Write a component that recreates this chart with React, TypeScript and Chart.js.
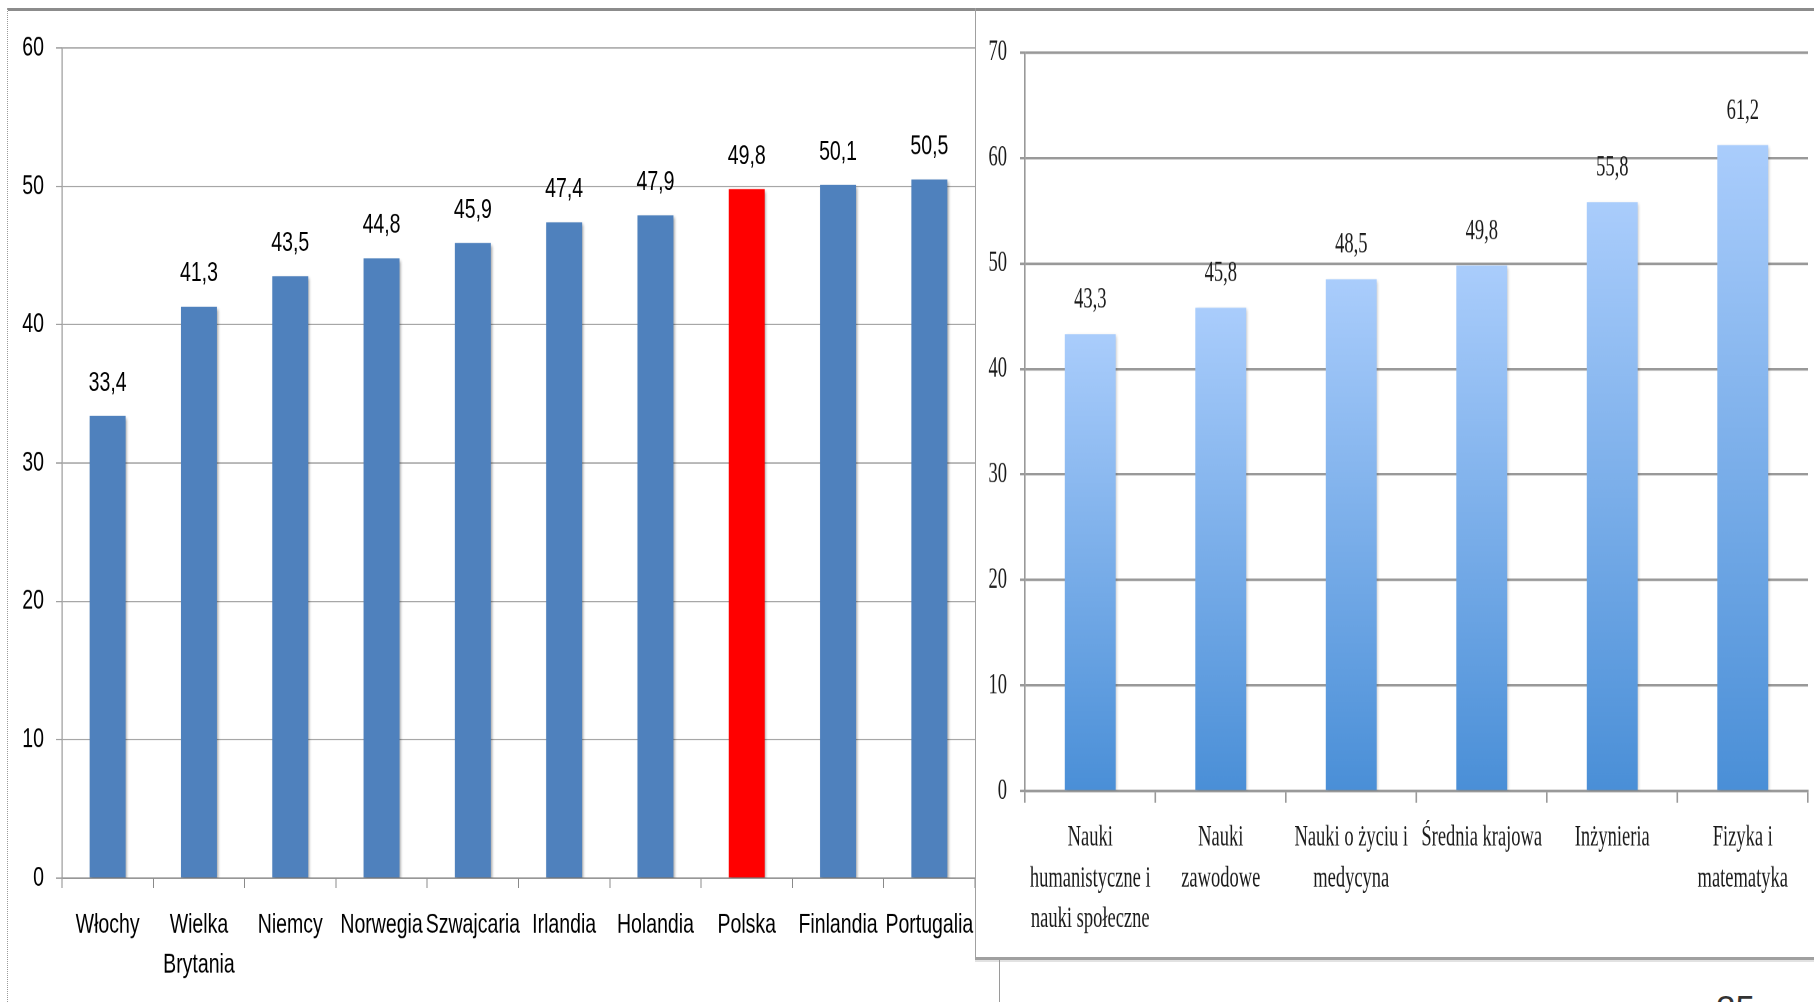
import React, { useEffect, useRef } from 'react';
import { Chart, registerables } from 'chart.js';

Chart.register(...registerables);

// ---------------- data ----------------
const leftCategories: string[][] = [
  ['Włochy'],
  ['Wielka', 'Brytania'],
  ['Niemcy'],
  ['Norwegia'],
  ['Szwajcaria'],
  ['Irlandia'],
  ['Holandia'],
  ['Polska'],
  ['Finlandia'],
  ['Portugalia'],
];
const leftValues = [33.4, 41.3, 43.5, 44.8, 45.9, 47.4, 47.9, 49.8, 50.1, 50.5];
const leftHighlight = 'Polska';
const leftTicks = [0, 10, 20, 30, 40, 50, 60];

const rightCategories: string[][] = [
  ['Nauki', 'humanistyczne i', 'nauki społeczne'],
  ['Nauki', 'zawodowe'],
  ['Nauki o życiu i', 'medycyna'],
  ['Średnia krajowa'],
  ['Inżynieria'],
  ['Fizyka i', 'matematyka'],
];
const rightValues = [43.3, 45.8, 48.5, 49.8, 55.8, 61.2];
const rightTicks = [0, 10, 20, 30, 40, 50, 60, 70];

const pageNumber = '25';

// ---------------- styling ----------------
const SANS = "'Liberation Sans', Arial, sans-serif";
const SERIF = "'Liberation Serif', 'Times New Roman', serif";

const fmt = (v: number) => v.toFixed(1).replace('.', ',');

const shadowPlugin = (color: string, blur: number, ox: number, oy: number) => ({
  id: 'barShadow',
  beforeDatasetDraw(chart: any) {
    const ctx = chart.ctx;
    ctx.save();
    ctx.shadowColor = color;
    ctx.shadowBlur = blur;
    ctx.shadowOffsetX = ox;
    ctx.shadowOffsetY = oy;
  },
  afterDatasetDraw(chart: any) {
    chart.ctx.restore();
  },
});

const valueLabelPlugin = (offset: number, font: string, color: string) => ({
  id: 'valueLabels',
  afterDatasetsDraw(chart: any) {
    const ctx = chart.ctx;
    const meta = chart.getDatasetMeta(0);
    const data = chart.data.datasets[0].data as number[];
    ctx.save();
    ctx.font = font;
    ctx.fillStyle = color;
    ctx.textAlign = 'center';
    ctx.textBaseline = 'middle';
    meta.data.forEach((el: any, i: number) => {
      ctx.fillText(fmt(data[i]), el.x, el.y - offset);
    });
    ctx.restore();
  },
});

// ---------------- left chart ----------------
const L_W = 968;
const L_H = 710;
const L_S = 1.4;

function LeftChart() {
  const ref = useRef<HTMLCanvasElement>(null);
  useEffect(() => {
    if (!ref.current) return;
    const fontSize = 19.5;
    const chart = new Chart(ref.current, {
      type: 'bar',
      data: {
        labels: leftCategories,
        datasets: [
          {
            data: leftValues,
            backgroundColor: leftCategories.map((c) => (c[0] === leftHighlight ? '#ff0000' : '#4f81bd')),
            borderWidth: 0,
            barPercentage: 0.394,
            categoryPercentage: 1,
          },
        ],
      },
      options: {
        responsive: false,
        animation: false,
        devicePixelRatio: 2,
        layout: { padding: { top: 28.6, right: 1, left: 0, bottom: 0 } },
        plugins: { legend: { display: false }, tooltip: { enabled: false }, title: { display: false } },
        scales: {
          x: {
            grid: { drawOnChartArea: false, drawTicks: true, tickLength: 7.1, color: '#8a8a8a', lineWidth: 1 },
            border: { display: true, color: '#8a8a8a', width: 0.8 },
            ticks: {
              color: '#000',
              padding: 12.2,
              maxRotation: 0,
              autoSkip: false,
              font: { family: SANS, size: fontSize, lineHeight: 1.465 },
            },
            afterFit: (s: any) => {
              s.height = 88.6;
              s.paddingLeft = 0;
              s.paddingRight = 0;
            },
          },
          y: {
            min: leftTicks[0],
            max: leftTicks[leftTicks.length - 1],
            ticks: {
              stepSize: leftTicks[1] - leftTicks[0],
              color: '#000',
              padding: 12,
              font: { family: SANS, size: fontSize },
            },
            grid: { color: '#8a8a8a', lineWidth: 0.8, tickLength: 6, drawTicks: true },
            border: { display: true, color: '#9a9a9a', width: 1.2 },
            afterFit: (s: any) => {
              s.width = 54;
            },
          },
        },
      },
      plugins: [
        shadowPlugin('rgba(0,0,0,0.35)', 5, 3, 3),
        valueLabelPlugin(23.5, `${fontSize}px ${SANS}`, '#000'),
      ],
    } as any);
    return () => chart.destroy();
  }, []);
  return (
    <div
      style={{
        position: 'absolute',
        left: 8,
        top: 8,
        width: L_W,
        height: L_H,
        transform: `scaleY(${L_S})`,
        transformOrigin: '0 0',
      }}
    >
      <canvas ref={ref} width={L_W} height={L_H} style={{ width: L_W, height: L_H, display: 'block' }} />
    </div>
  );
}

// ---------------- right chart ----------------
const R_W = 837;
const R_H = 609.7;
const R_S = 1.55;

function RightChart() {
  const ref = useRef<HTMLCanvasElement>(null);
  useEffect(() => {
    if (!ref.current) return;
    const fontSize = 18.5;
    const chart = new Chart(ref.current, {
      type: 'bar',
      data: {
        labels: rightCategories,
        datasets: [
          {
            data: rightValues,
            backgroundColor: (c: any) => {
              const ch = c.chart;
              const ys = ch.scales && ch.scales.y;
              if (!ys || c.type !== 'data') return '#79aeea';
              const top = ys.getPixelForValue(c.raw as number);
              const bot = ys.getPixelForValue(0);
              if (!isFinite(top) || !isFinite(bot) || top === bot) return '#79aeea';
              const g = ch.ctx.createLinearGradient(0, top, 0, bot);
              g.addColorStop(0, '#aacdfc');
              g.addColorStop(1, '#4a8fd7');
              return g;
            },
            borderWidth: 0,
            barPercentage: 0.39,
            categoryPercentage: 1,
          },
        ],
      },
      options: {
        responsive: false,
        animation: false,
        devicePixelRatio: 2,
        layout: { padding: { top: 26.6, right: 6, left: 0, bottom: 0 } },
        plugins: { legend: { display: false }, tooltip: { enabled: false }, title: { display: false } },
        scales: {
          x: {
            grid: { drawOnChartArea: false, drawTicks: true, tickLength: 7.4, color: '#999999', lineWidth: 1.6 },
            border: { display: true, color: '#999999', width: 1.6 },
            ticks: {
              color: '#1a1a1a',
              padding: 9.9,
              maxRotation: 0,
              autoSkip: false,
              font: { family: SERIF, size: fontSize, lineHeight: 1.41 },
            },
            afterFit: (s: any) => {
              s.height = 106.5;
              s.paddingLeft = 0;
              s.paddingRight = 0;
            },
          },
          y: {
            min: rightTicks[0],
            max: rightTicks[rightTicks.length - 1],
            ticks: {
              stepSize: rightTicks[1] - rightTicks[0],
              color: '#1a1a1a',
              padding: 13,
              font: { family: SERIF, size: fontSize },
            },
            grid: { color: '#999999', lineWidth: 1.6, tickLength: 5, drawTicks: true },
            border: { display: true, color: '#999999', width: 1.6 },
            afterFit: (s: any) => {
              s.width = 48;
            },
          },
        },
      },
      plugins: [
        shadowPlugin('rgba(0,0,0,0.2)', 5, 3, 2),
        valueLabelPlugin(22, `${fontSize}px ${SERIF}`, '#1a1a1a'),
      ],
    } as any);
    return () => chart.destroy();
  }, []);
  return (
    <div
      style={{
        position: 'absolute',
        left: 977,
        top: 11,
        width: R_W,
        height: R_H,
        transform: `scaleY(${R_S})`,
        transformOrigin: '0 0',
      }}
    >
      <canvas ref={ref} width={R_W} height={R_H} style={{ width: R_W, height: R_H, display: 'block' }} />
    </div>
  );
}

export default function App() {
  return (
    <div
      style={{
        position: 'fixed',
        left: 0,
        top: 0,
        width: 1814,
        height: 1002,
        overflow: 'hidden',
        background: '#ffffff',
      }}
    >
      <LeftChart />
      <RightChart />
      {/* slide frame */}
      <div style={{ position: 'absolute', left: 8, top: 8, width: 1806, height: 3, background: '#8c8c8c' }} />
      <div style={{ position: 'absolute', left: 7, top: 8, width: 0, height: 994, borderLeft: '1px dotted #9a9a9a' }} />
      <div style={{ position: 'absolute', left: 975, top: 8, width: 1, height: 950, background: '#a0a0a0' }} />
      <div style={{ position: 'absolute', left: 975, top: 957, width: 839, height: 3, background: '#a0a0a0' }} />
      <div style={{ position: 'absolute', left: 975, top: 960, width: 839, height: 2, background: '#e2e2e2' }} />
      <div style={{ position: 'absolute', left: 999, top: 960, width: 1, height: 42, background: '#9a9a9a' }} />
      <div
        style={{
          position: 'absolute',
          left: 1716,
          top: 990,
          fontFamily: SANS,
          fontSize: 35,
          lineHeight: '35px',
          color: '#333333',
        }}
      >
        {pageNumber}
      </div>
    </div>
  );
}
